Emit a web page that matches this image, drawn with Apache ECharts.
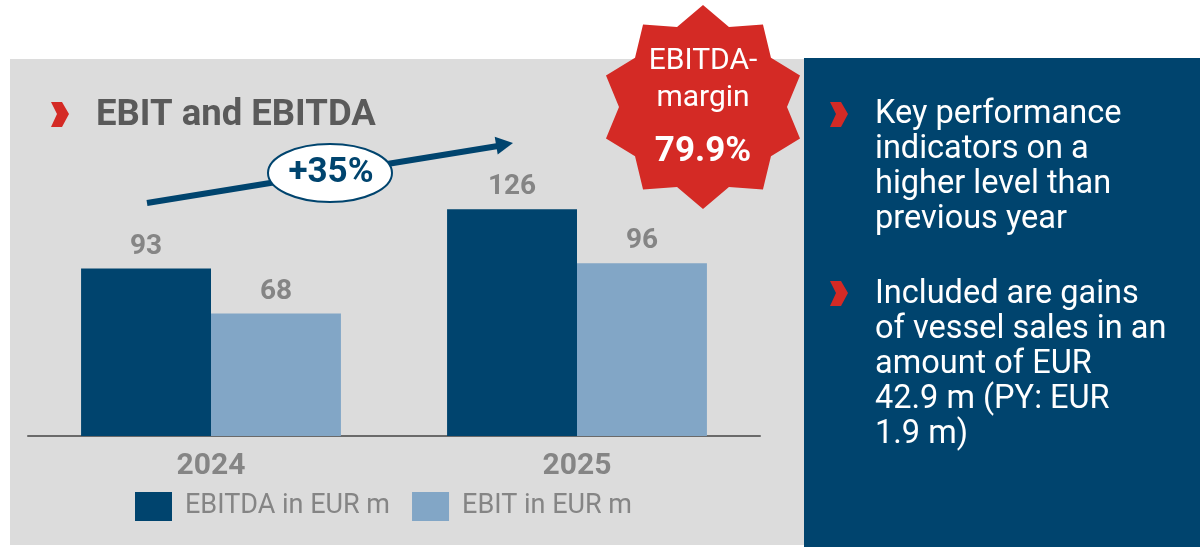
<!DOCTYPE html>
<html>
<head>
<meta charset="utf-8">
<script src="https://cdn.jsdelivr.net/npm/echarts@6/dist/echarts.min.js"></script>
<style>
  html, body { margin: 0; padding: 0; background: #fff; }
  #chart { width: 1200px; height: 547px; }
</style>
</head>
<body>
<div id="chart"></div>
<script>
// data
var years = ['2024', '2025'];
var ebitda = [93, 126];
var ebit = [68, 96];
var seriesNames = ['EBITDA in EUR m', 'EBIT in EUR m'];
var growthText = '+35%';
var marginLines = ['EBITDA-', 'margin', '79.9%'];
var bullet1 = ['Key performance', 'indicators on a', 'higher level than', 'previous year'];
var bullet2 = ['Included are gains', 'of vessel sales in an', 'amount of EUR', '42.9 m (PY: EUR', '1.9 m)'];

var DARK = '#00446e';
var LIGHT = '#82a6c6';
var RED = '#d42a25';
var GREY_TXT = '#858585';
var FONT = 'Roboto, "Noto Sans", sans-serif';

function chevron(x, y) {
  return {
    type: 'polygon', z: 5,
    shape: { points: [[x, y], [x + 11, y], [x + 18, y + 12], [x + 11, y + 25], [x, y + 25], [x + 6, y + 12]] },
    style: { fill: RED }
  };
}

function starPoints(cx, cy, R, r, n) {
  var pts = [];
  for (var i = 0; i < n * 2; i++) {
    var a = -Math.PI / 2 + i * Math.PI / n;
    var rr = i % 2 === 0 ? R : r;
    pts.push([cx + rr * Math.cos(a), cy + rr * Math.sin(a)]);
  }
  return pts;
}

var chart = echarts.init(document.getElementById('chart'));

var option = {
  backgroundColor: '#ffffff',
  animation: false,
  textStyle: { fontFamily: FONT },
  grid: { left: 28, right: 440, top: 76, bottom: 111 },
  legend: {
    data: seriesNames,
    left: 135,
    top: 492,
    padding: 0,
    icon: 'rect',
    itemWidth: 37,
    itemHeight: 29,
    itemGap: 22,
    textStyle: { color: GREY_TXT, fontSize: 27, fontFamily: FONT, padding: [0, 0, 0, 8] }
  },
  xAxis: {
    type: 'category',
    data: years,
    axisTick: { show: false },
    axisLine: { lineStyle: { color: '#6a6a6a', width: 2 } },
    axisLabel: { color: GREY_TXT, fontSize: 30, fontWeight: 'bold', margin: 15, fontFamily: FONT }
  },
  yAxis: {
    type: 'value',
    min: 0,
    max: 200,
    show: false,
    splitLine: { show: false }
  },
  series: [
    {
      name: seriesNames[0],
      type: 'bar',
      data: ebitda,
      barGap: '0%',
      barCategoryGap: '29%',
      itemStyle: { color: DARK },
      label: { show: true, position: 'top', distance: 8, color: GREY_TXT, fontSize: 28, fontWeight: 'bold', fontFamily: FONT }
    },
    {
      name: seriesNames[1],
      type: 'bar',
      data: ebit,
      itemStyle: { color: LIGHT },
      label: { show: true, position: 'top', distance: 8, color: GREY_TXT, fontSize: 28, fontWeight: 'bold', fontFamily: FONT }
    }
  ],
  graphic: [
    // panels
    { type: 'rect', z: -10, shape: { x: 10, y: 59, width: 794, height: 486 }, style: { fill: '#dcdcdc' } },
    { type: 'rect', z: -10, shape: { x: 804, y: 58, width: 396, height: 489 }, style: { fill: DARK } },
    // title
    chevron(51, 102),
    { type: 'text', z: 5, x: 96, y: 116,
      style: { text: 'EBIT and EBITDA', fill: '#5a5a5a', font: 'bold 36.5px ' + FONT, textVerticalAlign: 'middle' } },
    // growth arrow
    { type: 'line', z: 5, shape: { x1: 147, y1: 203, x2: 498, y2: 146 }, style: { stroke: DARK, lineWidth: 6 } },
    { type: 'polygon', z: 5, shape: { points: [[513, 143], [497.7, 154.6], [494.7, 136.8]] }, style: { fill: DARK } },
    { type: 'ellipse', z: 6, shape: { cx: 330, cy: 173, rx: 62, ry: 29 }, style: { fill: '#ffffff', stroke: DARK, lineWidth: 2 } },
    { type: 'text', z: 7, x: 331, y: 173,
      style: { text: growthText, fill: DARK, font: 'bold 35px ' + FONT, textAlign: 'center', textVerticalAlign: 'middle' } },
    // margin star
    { type: 'polygon', z: 5, shape: { points: starPoints(703, 107, 102, 84, 10) }, style: { fill: RED } },
    { type: 'text', z: 6, x: 703, y: 61,
      style: { text: marginLines[0], fill: '#fff', font: '30px ' + FONT, textAlign: 'center', textVerticalAlign: 'middle' } },
    { type: 'text', z: 6, x: 703, y: 98,
      style: { text: marginLines[1], fill: '#fff', font: '30px ' + FONT, textAlign: 'center', textVerticalAlign: 'middle' } },
    { type: 'text', z: 6, x: 703, y: 152,
      style: { text: marginLines[2], fill: '#fff', font: 'bold 35px ' + FONT, textAlign: 'center', textVerticalAlign: 'middle' } },
    // right panel bullets
    chevron(830, 102),
    { type: 'text', z: 5, x: 875, y: 97,
      style: { text: bullet1.join('\n'), fill: '#fff', font: '32.5px ' + FONT, lineHeight: 35 } },
    chevron(830, 281),
    { type: 'text', z: 5, x: 875, y: 277,
      style: { text: bullet2.join('\n'), fill: '#fff', font: '32.5px ' + FONT, lineHeight: 35 } }
  ]
};

chart.setOption(option);
window.addEventListener('resize', function () {
  chart.resize();
});
</script>
</body>
</html>
